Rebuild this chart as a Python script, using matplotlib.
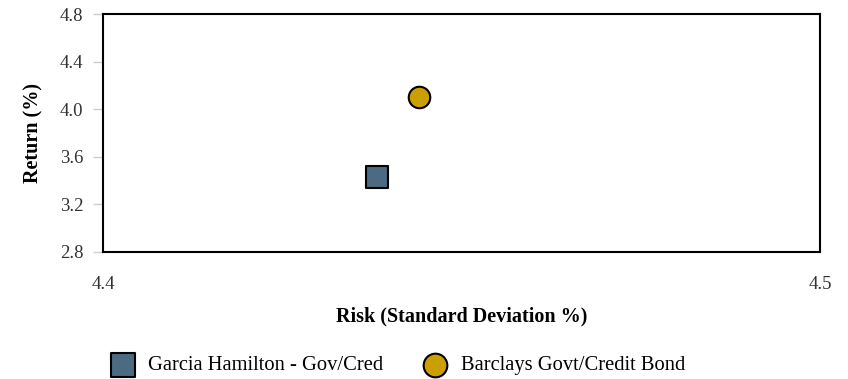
import matplotlib.pyplot as plt

# data
names = ["Garcia Hamilton - Gov/Cred", "Barclays Govt/Credit Bond"]
risk = [4.4382, 4.4441]
ret = [3.43, 4.10]
markers = ["s", "o"]
colors = ["#4b6b82", "#cc9f00"]

xticks = [4.4, 4.5]
yticks = [2.8, 3.2, 3.6, 4.0, 4.4, 4.8]

plt.rcParams['font.family'] = ['Liberation Serif', 'DejaVu Serif']

fig = plt.figure(figsize=(8.48, 3.79), dpi=100)
ax = fig.add_axes([103 / 848, 1 - 252 / 379, 717 / 848, 238 / 379])

for n, x, y, m, c in zip(names, risk, ret, markers, colors):
    ax.scatter(x, y, marker=m, s=260 if m == "s" else 240, color=c,
               edgecolor="black", linewidth=1.5, label=n, zorder=3)

ax.set_xlim(4.4, 4.5)
ax.set_ylim(2.8, 4.8)
ax.set_xticks(xticks)
ax.set_xticklabels(["4.4", "4.5"])
ax.set_yticks(yticks)
ax.set_yticklabels(["%.1f" % v for v in yticks])
ax.tick_params(axis="x", length=0, pad=17, labelsize=13.5, colors="#333333")
ax.tick_params(axis="y", length=7, width=1, color="#cccccc", pad=7,
               labelsize=13.5, labelcolor="#333333")
for s in ax.spines.values():
    s.set_linewidth(1.5)
    s.set_color("black")

ax.set_xlabel("Risk (Standard Deviation %)", fontsize=14.5, fontweight="bold", labelpad=10)
ax.set_ylabel("Return (%)", fontsize=14.5, fontweight="bold", labelpad=12)

fig.legend(loc="center", bbox_to_anchor=(0.464, 0.036), ncol=2, frameon=False,
           fontsize=14.8, handletextpad=0.25, columnspacing=1.5, markerscale=1.1)

fig.savefig("out.png", dpi=100)
